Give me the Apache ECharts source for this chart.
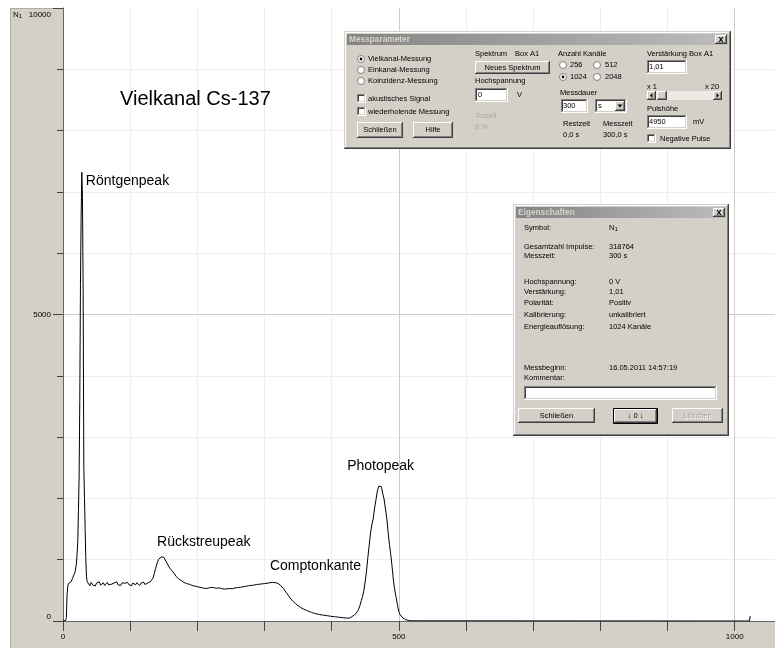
<!DOCTYPE html>
<html>
<head>
<meta charset="utf-8">
<script src="https://cdn.jsdelivr.net/npm/echarts@6/dist/echarts.min.js"></script>
<style>
html,body{margin:0;padding:0;background:#fff}
#c{width:775px;height:648px}
</style>
</head>
<body>
<div id="c"></div>
<script>
// Gamma spectrum of Cs-137, counts per channel (1024 channels, 300 s)
const anstieg = [[0,0],[2,0],[4,10],[5,60],[6,420],[7,560],[8,610],[10,580],[12,640],[14,690],[16,720],[18,800],[20,940]];
const roentgen = [[21,1100],[22,1300],[23,1800],[24,2350],[25,3600],[26,5490],[27,6600],[28,7320],[29,6910],[30,5360],[31,2520],[32,2000],[33,1490],[34,1000],[35,720],[36,640]];
const kontinuum = [[38,610],[40,575],[42,630],[44,590],[46,615],[48,570],[50,620],[52,600],[54,640],[56,585],[58,610],[60,625],[62,580],[64,605],[66,630],[68,590],[70,615],[72,600],[74,575],[76,620],[78,605],[80,640],[82,590],[84,610],[86,580],[88,625],[90,600],[92,615],[94,585],[96,630],[98,595],[100,610],[102,575],[104,620],[106,600],[108,590],[110,625],[112,605],[114,580],[116,615],[118,600],[120,635],[122,595],[124,610],[126,620],[128,600],[130,640],[132,650]];
const rueckstreu = [[134,700],[136,780],[138,860],[140,940],[142,1000],[144,1030],[146,1045],[148,1020],[150,1040],[152,1010],[154,960],[156,930],[158,880],[160,850],[162,820],[164,800],[166,770],[168,730],[170,720],[172,690],[174,700],[176,660],[178,650],[180,630],[182,640],[184,610],[186,620],[188,600],[190,605],[192,580],[194,595],[196,570],[198,590],[200,560],[202,575],[204,550],[206,570],[208,540],[210,555],[212,530],[214,560],[216,535],[218,520],[220,550],[222,525],[224,545],[226,515],[228,535],[230,520],[232,540],[234,510],[236,530],[238,545],[240,520],[242,540],[244,525],[246,550],[248,530],[250,545],[252,525],[254,555],[256,540],[258,560],[260,545],[262,565],[264,550],[266,575],[268,560],[270,580],[272,565],[274,590],[276,575],[278,595],[280,580],[282,600],[284,585],[286,610],[288,595],[290,615],[292,600],[294,620],[296,605],[298,625],[300,610],[302,630],[304,615],[306,600],[308,625],[310,610],[312,630],[314,615],[316,625],[318,620],[320,615]];
const compton = [[322,600],[324,580],[326,555],[328,530],[330,500],[332,470],[334,440],[336,410],[338,375],[340,350],[342,325],[344,300],[346,285],[348,265],[350,250],[352,235],[354,220],[356,210],[358,195],[360,185],[362,175],[364,165],[366,158],[368,150],[370,140],[372,135],[374,125],[376,120],[378,115],[380,110],[382,105],[384,100],[386,98],[388,95],[390,92],[392,88],[394,85],[396,80],[398,78],[400,75],[402,72],[404,70],[406,68],[408,66],[410,62],[412,60],[414,58],[416,55],[418,52],[420,50],[422,48],[424,47],[426,46],[428,55]];
const photo = [[430,70],[432,85],[434,100],[436,120],[438,150],[440,190],[442,250],[444,330],[446,400],[448,500],[450,650],[452,830],[454,1050],[456,1250],[458,1450],[460,1580],[462,1680],[464,1850],[466,1980],[468,2120],[470,2200],[472,2180],[474,2190],[476,2080],[478,1990],[480,1830],[482,1680],[484,1450],[486,1250],[488,1080],[490,880],[492,650],[494,500],[496,380],[498,260],[500,150],[502,100],[504,70],[506,50],[508,35],[510,22],[512,15],[514,10],[516,6],[518,3],[520,0]];
const rest = [[1022,0],[1023,80]];

const xBeschriftung = [0, 500, 1000];
const yBeschriftung = [0, 5000, 10000];

const peakNamen = [
  {name: 'Röntgenpeak', coord: [34, 7180]},
  {name: 'Rückstreupeak', coord: [140, 1290]},
  {name: 'Comptonkante', coord: [308, 897]},
  {name: 'Photopeak', coord: [423, 2529]}
];

const spektrum = [].concat(anstieg, roentgen, kontinuum, rueckstreu, compton, photo, rest);

const UI = 'Liberation Sans, Arial, sans-serif';
const FACE = '#d4d0c8', HI = '#ffffff', SH = '#808080', DK = '#404040';
const GRID_MAJ = '#cccccc', GRID_MIN = '#eeeeee';

// ---- Windows-style dialog widgets drawn as graphic elements ----
const ui = [];
let order = 0;
function push(el) { el.z = 100; el.z2 = order++; el.silent = true; ui.push(el); }
function box(x, y, w, h, fill) { push({type: 'rect', shape: {x, y, width: w, height: h}, style: {fill}}); }
function hl(x1, x2, y, c) { push({type: 'line', shape: {x1: x1, y1: y + 0.5, x2: x2 + 1, y2: y + 0.5}, style: {stroke: c, lineWidth: 1}}); }
function vl(x, y1, y2, c) { push({type: 'line', shape: {x1: x + 0.5, y1: y1, x2: x + 0.5, y2: y2 + 1}, style: {stroke: c, lineWidth: 1}}); }
function bevel(x, y, w, h, tl, br) {
  hl(x, x + w - 1, y, tl); vl(x, y, y + h - 1, tl);
  hl(x, x + w - 1, y + h - 1, br); vl(x + w - 1, y, y + h - 1, br);
}
function raised(x, y, w, h) { box(x, y, w, h, FACE); bevel(x, y, w, h, HI, DK); bevel(x + 1, y + 1, w - 2, h - 2, FACE, SH); }
function frame(x, y, w, h) { box(x, y, w, h, FACE); bevel(x, y, w, h, FACE, DK); bevel(x + 1, y + 1, w - 2, h - 2, HI, SH); }
function sunken(x, y, w, h) { box(x, y, w, h, '#fff'); bevel(x, y, w, h, SH, HI); bevel(x + 1, y + 1, w - 2, h - 2, DK, FACE); }
function txt(x, y, s, o) {
  o = o || {};
  push({type: 'text', x, y, style: {
    text: s, fill: o.fill || '#000',
    font: (o.bold ? 'bold ' : '') + (o.size || 7.5) + 'px ' + UI,
    align: o.align || 'left', verticalAlign: 'middle', rich: o.rich
  }});
}
function button(x, y, w, h, s, o) { raised(x, y, w, h); txt(x + w / 2, y + h / 2, s, Object.assign({align: 'center'}, o)); }
function check(x, y) { sunken(x, y, 9, 9); }
function radio(cx, cy, on) {
  push({type: 'circle', shape: {cx, cy, r: 3.5}, style: {fill: '#fff', stroke: SH, lineWidth: 1}});
  if (on) push({type: 'circle', shape: {cx, cy, r: 1.4}, style: {fill: '#000'}});
}
function tri(pts) { push({type: 'polygon', shape: {points: pts}, style: {fill: '#000'}}); }
function win(x, y, w, h, title) {
  frame(x, y, w, h);
  push({type: 'rect', shape: {x: x + 3, y: y + 3, width: w - 6, height: 11},
    style: {fill: {type: 'linear', x: 0, y: 0, x2: 1, y2: 0,
      colorStops: [{offset: 0, color: '#848484'}, {offset: 1, color: '#bcbcbc'}]}}});
  txt(x + 5, y + 8.5, title, {bold: true, size: 8.3, fill: '#d8d4cc'});
  const bx = x + w - 16, by = y + 4;
  raised(bx, by, 12, 9);
  txt(bx + 6, by + 4.5, 'x', {bold: true, size: 9, align: 'center'});
}

// Messparameter
win(344, 31, 387, 118, 'Messparameter');
radio(361, 59, true);  txt(368, 59, 'Vielkanal-Messung');
radio(361, 70, false); txt(368, 70, 'Einkanal-Messung');
radio(361, 81, false); txt(368, 81, 'Koinzidenz-Messung');
check(357, 94);  txt(368, 98.5, 'akustisches Signal');
check(357, 107); txt(368, 111.5, 'wiederholende Messung');
button(357, 122, 46, 16, 'Schließen');
button(413, 122, 40, 16, 'Hilfe');
txt(475, 54, 'Spektrum'); txt(515, 54, 'Box A1');
button(475, 61, 75, 13, 'Neues Spektrum');
txt(475, 81, 'Hochspannung');
sunken(475, 88, 33, 14); txt(478, 95, '0');
txt(517, 95, 'V');
txt(475, 116, 'Totzeit', {fill: '#a8a8a8'});
txt(475, 127, '8 %', {fill: '#a8a8a8'});
txt(558, 54, 'Anzahl Kanäle');
radio(563, 65, false); txt(570, 65, '256');
radio(597, 65, false); txt(605, 65, '512');
radio(563, 77, true);  txt(570, 77, '1024');
radio(597, 77, false); txt(605, 77, '2048');
txt(560, 93, 'Messdauer');
sunken(561, 99, 27, 14); txt(563, 106, '300');
sunken(595, 99, 32, 14); txt(598, 106, 's');
raised(615, 101, 10, 10); tri([[617.5, 104.5], [622.5, 104.5], [620, 107.5]]);
txt(563, 124, 'Restzeit'); txt(603, 124, 'Messzeit');
txt(563, 135, '0,0 s');    txt(603, 135, '300,0 s');
txt(647, 54, 'Verstärkung Box A1');
sunken(647, 60, 40, 14); txt(649, 67, '1,01');
txt(647, 87, 'x 1'); txt(705, 87, 'x 20');
box(647, 91, 75, 9, '#ebe9e3');
raised(647, 91, 9, 9); tri([[652.5, 93], [652.5, 98], [650, 95.5]]);
raised(657, 91, 10, 9);
raised(713, 91, 9, 9); tri([[716.5, 93], [716.5, 98], [719, 95.5]]);
txt(647, 109, 'Pulshöhe');
sunken(647, 115, 40, 14); txt(649, 122, '4950');
txt(693, 122, 'mV');
check(647, 134); txt(660, 139, 'Negative Pulse');

// Eigenschaften
win(513, 204, 216, 232, 'Eigenschaften');
const eigenschaften = [
  ['Symbol:', null, 228],
  ['Gesamtzahl Impulse:', '318764', 247],
  ['Messzeit:', '300 s', 256],
  ['Hochspannung:', '0 V', 282],
  ['Verstärkung:', '1,01', 292],
  ['Polarität:', 'Positiv', 303],
  ['Kalibrierung:', 'unkalibriert', 315],
  ['Energieauflösung:', '1024 Kanäle', 327],
  ['Messbeginn:', '16.05.2011 14:57:19', 368],
  ['Kommentar:', '', 378]
];
eigenschaften.forEach(function (r) {
  txt(524, r[2], r[0]);
  if (r[1]) txt(609, r[2], r[1]);
});
txt(609, 228, '{n|N}{s|1}', {rich: {
  n: {fontSize: 7.5, fontFamily: UI, fill: '#000'},
  s: {fontSize: 6, fontFamily: UI, fill: '#000', padding: [3, 0, 0, 0]}
}});
sunken(524, 386, 193, 14);
button(518, 408, 77, 15, 'Schließen');
push({type: 'rect', shape: {x: 613.5, y: 408.5, width: 44, height: 15}, style: {fill: 'none', stroke: '#000', lineWidth: 1}});
button(614, 409, 43, 14, '↓ 0 ↓');
raised(672, 408, 51, 15);
txt(698.5, 416.5, 'Löschen', {align: 'center', fill: '#fff'});
txt(697.5, 415.5, 'Löschen', {align: 'center', fill: '#a0a0a0'});

// Grey window frame round the plot
const panels = [
  {type: 'rect', z: -1, silent: true, shape: {x: 10, y: 8, width: 53, height: 640}, style: {fill: FACE}},
  {type: 'rect', z: -1, silent: true, shape: {x: 10, y: 621, width: 765, height: 27}, style: {fill: FACE}},
  {type: 'line', z: -1, silent: true, shape: {x1: 10.5, y1: 8, x2: 10.5, y2: 648}, style: {stroke: '#b0aca4', lineWidth: 1}},
  {type: 'line', z: -1, silent: true, shape: {x1: 10, y1: 8.5, x2: 63, y2: 8.5}, style: {stroke: '#b0aca4', lineWidth: 1}},
  {type: 'text', z: 5, silent: true, x: 13, y: 15, style: {
    text: '{n|N}{s|1}', verticalAlign: 'middle',
    rich: {n: {fontSize: 8, fontFamily: UI, fill: '#000'}, s: {fontSize: 6, fontFamily: UI, fill: '#000', padding: [3, 0, 0, 0]}}
  }}
];

const chart = echarts.init(document.getElementById('c'), null, {renderer: 'canvas'});
chart.setOption({
  animation: false,
  backgroundColor: '#fff',
  title: {
    text: 'Vielkanal Cs-137', left: 120, top: 89, padding: 0,
    textStyle: {fontSize: 20, fontWeight: 'normal', fontFamily: UI, color: '#000'}
  },
  grid: {left: 63, top: 8, right: 0, bottom: 27, show: false, containLabel: false, outerBoundsMode: 'none'},
  xAxis: {
    type: 'value', min: 0, max: 1060, interval: 100,
    axisLine: {show: true, onZero: false, lineStyle: {color: '#666', width: 1}},
    axisTick: {show: true, length: 10, lineStyle: {color: '#444'}},
    axisLabel: {
      margin: 12, fontSize: 8, fontFamily: UI, color: '#000',
      formatter: function (v) { return xBeschriftung.indexOf(v) >= 0 ? String(v) : ''; }
    },
    splitLine: {show: true, showMaxLine: false, lineStyle: {color: [GRID_MAJ, GRID_MIN, GRID_MIN, GRID_MIN, GRID_MIN], width: 1}}
  },
  yAxis: [
    {
      type: 'value', min: 0, max: 10000, interval: 1000, position: 'left',
      axisLine: {show: true, onZero: false, lineStyle: {color: '#666', width: 1}},
      axisTick: {show: true, length: 6, lineStyle: {color: '#444'}},
      axisLabel: {show: false},
      splitLine: {show: true, showMaxLine: false, lineStyle: {color: [GRID_MAJ, GRID_MIN, GRID_MIN, GRID_MIN, GRID_MIN], width: 1}}
    },
    {
      type: 'value', min: 0, max: 10000, interval: 5000, position: 'left',
      axisLine: {show: false},
      axisTick: {show: true, length: 10, lineStyle: {color: '#444'}},
      splitLine: {show: false},
      axisLabel: {
        margin: 12, fontSize: 8, fontFamily: UI, color: '#000',
        formatter: function (v) {
          if (yBeschriftung.indexOf(v) < 0) return '';
          if (v === 10000) return '{o|' + v + '}';
          if (v === 0) return '{u|' + v + '}';
          return String(v);
        },
        rich: {
          o: {fontSize: 8, fontFamily: UI, color: '#000', padding: [13, 0, 0, 0]},
          u: {fontSize: 8, fontFamily: UI, color: '#000', padding: [0, 0, 9, 0]}
        }
      }
    }
  ],
  series: [{
    type: 'line', yAxisIndex: 0, data: spektrum,
    showSymbol: false, symbol: 'none',
    lineStyle: {color: '#000', width: 1},
    z: 3,
    markPoint: {
      symbol: 'circle', symbolSize: 0, silent: true,
      itemStyle: {color: 'rgba(0,0,0,0)'},
      label: {show: true, position: 'right', distance: 0, fontSize: 14, fontFamily: UI, color: '#000',
        formatter: function (p) { return p.name; }},
      data: peakNamen.map(function (p) { return {name: p.name, coord: p.coord}; })
    }
  }],
  graphic: {elements: panels.concat(ui)}
});
</script>
</body>
</html>
